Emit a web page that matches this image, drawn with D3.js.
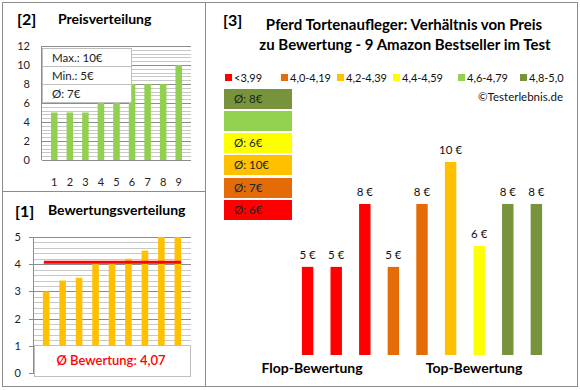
<!DOCTYPE html>
<html>
<head>
<meta charset="utf-8">
<script src="https://cdn.jsdelivr.net/npm/d3@7"></script>
<style>
  body { margin: 0; background: #fff; }
  svg { font-family: Lato, "Liberation Sans", sans-serif; }
</style>
</head>
<body>
<div id="chart"></div>
<script>
// product ranks 1..9
const products = [1, 2, 3, 4, 5, 6, 7, 8, 9];
// prices in € (sorted, for the price distribution)
const prices = [5, 5, 5, 6, 6, 8, 8, 8, 10];
// ratings (sorted, for the rating distribution)
const ratings = [3.0, 3.4, 3.5, 4.0, 4.0, 4.2, 4.5, 5.0, 5.0];
const avgRating = 4.07;
// main chart: price per product, ordered flop -> top
const mainPrices = [5, 5, 8, 5, 8, 10, 6, 8, 8];
const mainClasses = [0, 0, 0, 1, 1, 2, 3, 5, 5];
const classLabels = ["<3,99", "4,0-4,19", "4,2-4,39", "4,4-4,59", "4,6-4,79", "4,8-5,0"];
const classColors = ["#ff0000", "#e36c09", "#ffc000", "#ffff00", "#92d050", "#77933c"];
// average price per rating class (empty where no product)
const classAvg = ["Ø: 6€", "Ø: 7€", "Ø: 10€", "Ø: 6€", "", "Ø: 8€"];
const priceStats = ["Max.: 10€", "Min.: 5€", "Ø: 7€"];
const priceTicks = [0, 2, 4, 6, 8, 10, 12];
const ratingTicks = [0, 1, 2, 3, 4, 5];

const width = 580, height = 390;
const svg = d3.select("#chart").append("svg")
  .attr("width", width)
  .attr("height", height);

const borderColor = "#8c8c8c";

// panel frames
svg.append("rect").attr("x", 2.5).attr("y", 2.5).attr("width", 203).attr("height", 189)
  .attr("fill", "none").attr("stroke", borderColor);
svg.append("rect").attr("x", 2.5).attr("y", 191.5).attr("width", 203).attr("height", 195)
  .attr("fill", "none").attr("stroke", borderColor);
svg.append("rect").attr("x", 205.5).attr("y", 2.5).attr("width", 372).attr("height", 384)
  .attr("fill", "none").attr("stroke", borderColor);

// ---------- [2] Preisverteilung ----------
const p = svg.append("g");
p.append("text").attr("x", 17).attr("y", 25).attr("font-size", 16).attr("font-weight", "bold").text("[2]");
p.append("text").attr("x", 58).attr("y", 24).attr("font-size", 14).attr("font-weight", "bold").text("Preisverteilung");

const px = d3.scaleBand().domain(products).range([42, 191]).padding(0.58);
const py = d3.scaleLinear().domain([0, 12]).range([160, 46]);

p.append("g").selectAll("line")
  .data(d3.range(0, 12.01, 0.4))
  .join("line")
  .attr("x1", 42).attr("x2", 191)
  .attr("y1", d => Math.round(py(d)) + 0.5).attr("y2", d => Math.round(py(d)) + 0.5)
  .attr("stroke", d => Math.abs(d / 2 - Math.round(d / 2)) < 0.01 ? "#8c8c8c" : "#c8c8c8");

p.append("line").attr("x1", 41.5).attr("x2", 41.5).attr("y1", 46).attr("y2", 160).attr("stroke", "#8c8c8c");

p.append("g").selectAll("rect")
  .data(prices)
  .join("rect")
  .attr("x", (d, i) => px(products[i]))
  .attr("width", px.bandwidth())
  .attr("y", d => py(d))
  .attr("height", d => py(0) - py(d))
  .attr("fill", "#92d050");

p.append("g").selectAll("text")
  .data(priceTicks)
  .join("text")
  .attr("x", 30).attr("y", d => py(d) + 4)
  .attr("text-anchor", "end").attr("font-size", 11).attr("fill", "#222")
  .text(d => d);

p.append("g").selectAll("text")
  .data(products)
  .join("text")
  .attr("x", d => px(d) + px.bandwidth() / 2).attr("y", 186)
  .attr("text-anchor", "middle").attr("font-size", 11).attr("fill", "#222")
  .text(d => d);

// stats box
const sb = p.append("g");
sb.selectAll("rect")
  .data(priceStats)
  .join("rect")
  .attr("x", 42.5).attr("y", (d, i) => 48.5 + i * 18)
  .attr("width", 89).attr("height", 18)
  .attr("fill", "#fff").attr("stroke", "#bfbfbf");
sb.selectAll("text")
  .data(priceStats)
  .join("text")
  .attr("x", 52).attr("y", (d, i) => 61.5 + i * 18)
  .attr("font-size", 11.5).attr("fill", "#222")
  .text(d => d);

// ---------- [1] Bewertungsverteilung ----------
const r = svg.append("g");
r.append("text").attr("x", 15).attr("y", 217).attr("font-size", 16).attr("font-weight", "bold").text("[1]");
r.append("text").attr("x", 48).attr("y", 215).attr("font-size", 14).attr("font-weight", "bold").text("Bewertungsverteilung");

const rx = d3.scaleBand().domain(products).range([33, 191]).padding(0.6);
const ry = d3.scaleLinear().domain([0, 5]).range([373, 237]);

r.append("g").selectAll("line")
  .data(d3.range(0, 5.01, 0.2))
  .join("line")
  .attr("x1", 33).attr("x2", 191)
  .attr("y1", d => Math.round(ry(d)) + 0.5).attr("y2", d => Math.round(ry(d)) + 0.5)
  .attr("stroke", d => Math.abs(d - Math.round(d)) < 0.01 ? "#8c8c8c" : "#c8c8c8");

r.append("line").attr("x1", 33.5).attr("x2", 33.5).attr("y1", 237).attr("y2", 373).attr("stroke", "#8c8c8c");
r.append("g").selectAll("line.tick")
  .data(ratingTicks)
  .join("line")
  .attr("x1", 29).attr("x2", 33)
  .attr("y1", d => Math.round(ry(d)) + 0.5).attr("y2", d => Math.round(ry(d)) + 0.5)
  .attr("stroke", "#8c8c8c");

r.append("g").selectAll("rect")
  .data(ratings)
  .join("rect")
  .attr("x", (d, i) => rx(products[i]))
  .attr("width", rx.bandwidth())
  .attr("y", d => ry(d))
  .attr("height", d => ry(0) - ry(d))
  .attr("fill", "#ffc000");

r.append("g").selectAll("text")
  .data(ratingTicks)
  .join("text")
  .attr("x", 21).attr("y", d => ry(d) + 4)
  .attr("text-anchor", "end").attr("font-size", 11).attr("fill", "#222")
  .text(d => d);

r.append("line")
  .attr("x1", rx(1) + 1).attr("x2", rx(9) + rx.bandwidth())
  .attr("y1", ry(avgRating)).attr("y2", ry(avgRating))
  .attr("stroke", "#ff0000").attr("stroke-width", 3);

r.append("rect").attr("x", 34.5).attr("y", 345.5).attr("width", 156).attr("height", 31)
  .attr("fill", "#fff").attr("stroke", "#bfbfbf");
r.append("text").attr("x", 111).attr("y", 365).attr("text-anchor", "middle")
  .attr("font-size", 13).attr("font-weight", 600).attr("fill", "#ff0000")
  .text("Ø Bewertung: " + d3.format(".2f")(avgRating).replace(".", ","));

// ---------- [3] main chart ----------
const m = svg.append("g");
m.append("text").attr("x", 223).attr("y", 26).attr("font-size", 16).attr("font-weight", "bold").text("[3]");
m.append("text").attr("x", 404).attr("y", 30).attr("text-anchor", "middle")
  .attr("font-size", 15).attr("font-weight", "bold").text("Pferd Tortenaufleger: Verhältnis von Preis");
m.append("text").attr("x", 405).attr("y", 50).attr("text-anchor", "middle")
  .attr("font-size", 15).attr("font-weight", "bold").text("zu Bewertung - 9 Amazon Bestseller im Test");

// legend
const legendX = [225, 281, 337, 393, 458, 520];
classLabels.forEach((lab, i) => {
  m.append("rect").attr("x", legendX[i]).attr("y", 74).attr("width", 7).attr("height", 7).attr("fill", classColors[i]);
  m.append("text").attr("x", legendX[i] + 9).attr("y", 81.5)
    .attr("font-size", 11).attr("fill", "#111").text(lab);
});

m.append("text").attr("x", 563).attr("y", 101).attr("text-anchor", "end")
  .attr("font-size", 11.5).attr("fill", "#111").text("©Testerlebnis.de");

// class average boxes, stacked from red (bottom) to olive (top)
const boxY = [200, 178, 155, 133, 111, 89];
m.append("g").selectAll("rect")
  .data(classColors)
  .join("rect")
  .attr("x", 224).attr("width", 68)
  .attr("y", (d, i) => boxY[i]).attr("height", 20)
  .attr("fill", d => d);
m.append("g").selectAll("text")
  .data(classAvg)
  .join("text")
  .attr("x", 234).attr("y", (d, i) => boxY[i] + 14)
  .attr("font-size", 11.5).attr("fill", "#222")
  .text(d => d);

const mx = d3.scaleBand().domain(products).range([284.75, 559.25]).padding(0.6);
const my = d3.scaleLinear().domain([0.8, 10]).range([355, 162]);

m.append("g").selectAll("rect")
  .data(mainPrices)
  .join("rect")
  .attr("x", (d, i) => mx(products[i]))
  .attr("width", mx.bandwidth())
  .attr("y", d => my(d))
  .attr("height", d => my(0.8) - my(d))
  .attr("fill", (d, i) => classColors[mainClasses[i]]);

m.append("g").selectAll("text")
  .data(mainPrices)
  .join("text")
  .attr("x", (d, i) => mx(products[i]) + mx.bandwidth() / 2)
  .attr("y", d => my(d) - 8)
  .attr("text-anchor", "middle").attr("font-size", 11.5).attr("fill", "#111")
  .text(d => d + " €");

m.append("text").attr("x", 312).attr("y", 373).attr("text-anchor", "middle")
  .attr("font-size", 14).attr("font-weight", "bold").text("Flop-Bewertung");
m.append("text").attr("x", 474).attr("y", 373).attr("text-anchor", "middle")
  .attr("font-size", 14).attr("font-weight", "bold").text("Top-Bewertung");
</script>
</body>
</html>
